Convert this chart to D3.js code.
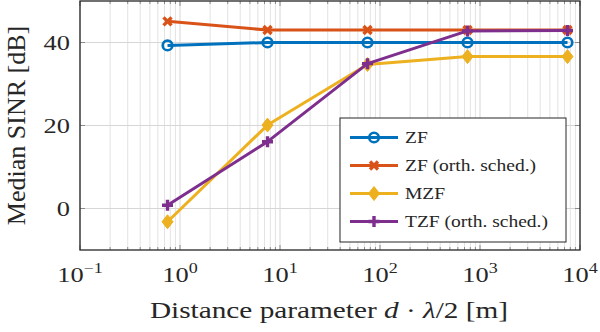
<!DOCTYPE html>
<html>
<head>
<meta charset="utf-8">
<script src="https://cdn.jsdelivr.net/npm/d3@7"></script>
<style>
  body { margin: 0; background: #fff; }
  svg text { font-family: 'Liberation Serif', serif; fill: #262626; }
</style>
</head>
<body>
<div id="chart"></div>
<script>
// distance parameter d * lambda / 2 [m]
var distances = [0.75, 7.5, 75, 750, 7500];
var zf = [39.3, 40, 40, 40, 40];
var zfOrth = [45.1, 43, 43, 43, 43];
var mzf = [-3.2, 20.1, 34.7, 36.6, 36.6];
var tzfOrth = [0.8, 16.1, 34.9, 42.8, 42.9];
var yTicks = [0, 20, 40];
var xExponents = [-1, 0, 1, 2, 3, 4];

var series = [
  { name: 'ZF', values: zf, color: '#0072BD', marker: 'circle' },
  { name: 'ZF (orth. sched.)', values: zfOrth, color: '#D95319', marker: 'cross' },
  { name: 'MZF', values: mzf, color: '#EDB120', marker: 'diamond' },
  { name: 'TZF (orth. sched.)', values: tzfOrth, color: '#7E2F8E', marker: 'plus' }
];

var margin = { top: 1, right: 20, bottom: 82, left: 80 },
  width = 600 - margin.left - margin.right,
  height = 332 - margin.top - margin.bottom;

var svg = d3
  .select('#chart')
  .append('svg')
  .attr('width', 600)
  .attr('height', 332)
  .append('g')
  .attr('transform', 'translate(' + margin.left + ',' + margin.top + ')');

var x = d3.scaleLog().domain([0.1, 10000]).range([0, width]);
var y = d3.scaleLinear().domain([-10, 50]).range([height, 0]);

// the source figure is a bit stretched sideways, so text is too
function stretchedText(parent, tx, ty, size, sx) {
  return parent
    .append('g')
    .attr('transform', 'translate(' + tx + ',' + ty + ') scale(' + sx + ',1)')
    .append('text')
    .style('font-size', size + 'px');
}

// minor decades
var minor = [];
xExponents.slice(0, -1).forEach(function(e) {
  for (var k = 2; k <= 9; k++) minor.push(k * Math.pow(10, e));
});
var major = xExponents.map(function(e) { return Math.pow(10, e); });

// grid
svg.selectAll('.minor-grid')
  .data(minor)
  .enter()
  .append('line')
  .attr('x1', function(d) { return x(d); })
  .attr('x2', function(d) { return x(d); })
  .attr('y1', 0)
  .attr('y2', height)
  .attr('stroke', '#e3e3e3')
  .attr('stroke-width', 1);

svg.selectAll('.major-grid')
  .data(major)
  .enter()
  .append('line')
  .attr('x1', function(d) { return x(d); })
  .attr('x2', function(d) { return x(d); })
  .attr('y1', 0)
  .attr('y2', height)
  .attr('stroke', '#d6d6d6')
  .attr('stroke-width', 1);

svg.selectAll('.y-grid')
  .data(yTicks)
  .enter()
  .append('line')
  .attr('x1', 0)
  .attr('x2', width)
  .attr('y1', function(d) { return y(d); })
  .attr('y2', function(d) { return y(d); })
  .attr('stroke', '#d6d6d6')
  .attr('stroke-width', 1);

// inner ticks on all sides
var tickG = svg.append('g').attr('stroke', '#8c8c8c').attr('stroke-width', 1);
minor.forEach(function(d) {
  tickG.append('line').attr('x1', x(d)).attr('x2', x(d)).attr('y1', height).attr('y2', height - 3);
  tickG.append('line').attr('x1', x(d)).attr('x2', x(d)).attr('y1', 0).attr('y2', 3);
});
major.forEach(function(d) {
  tickG.append('line').attr('x1', x(d)).attr('x2', x(d)).attr('y1', height).attr('y2', height - 5);
  tickG.append('line').attr('x1', x(d)).attr('x2', x(d)).attr('y1', 0).attr('y2', 5);
});
yTicks.forEach(function(d) {
  tickG.append('line').attr('x1', 0).attr('x2', 5).attr('y1', y(d)).attr('y2', y(d));
  tickG.append('line').attr('x1', width).attr('x2', width - 5).attr('y1', y(d)).attr('y2', y(d));
});

// frame
svg.append('rect')
  .attr('x', 0)
  .attr('y', 0)
  .attr('width', width)
  .attr('height', height)
  .attr('fill', 'none')
  .attr('stroke', '#262626')
  .attr('stroke-width', 1.3);

// tick labels
yTicks.forEach(function(d) {
  stretchedText(svg, -10, y(d), 22, 1.2)
    .attr('dy', '0.35em')
    .attr('text-anchor', 'end')
    .text(d);
});

xExponents.forEach(function(e) {
  var t = stretchedText(svg, x(Math.pow(10, e)), height + 32, 22, 1.2)
    .attr('text-anchor', 'middle');
  t.append('tspan').text('10');
  t.append('tspan')
    .attr('dy', -9)
    .style('font-size', '15px')
    .text(e < 0 ? '\u2212' + (-e) : e);
});

// axis titles
svg.append('text')
  .attr('transform', 'translate(-55,' + height / 2 + ') rotate(-90)')
  .attr('text-anchor', 'middle')
  .style('font-size', '26px')
  .text('Median SINR [dB]');

var xt = stretchedText(svg, width / 2 - 1, height + 68, 24, 1.22)
  .attr('text-anchor', 'middle');
xt.append('tspan').text('Distance parameter ');
xt.append('tspan').style('font-style', 'italic').text('d');
xt.append('tspan').text(' \u00b7 ');
xt.append('tspan').style('font-style', 'italic').text('\u03bb');
xt.append('tspan').text('/2 [m]');

// markers
function drawMarker(g, type, color, cx, cy) {
  if (type === 'circle') {
    g.append('circle')
      .attr('cx', cx).attr('cy', cy).attr('r', 4.8)
      .attr('fill', 'none').attr('stroke', color).attr('stroke-width', 2.6);
  } else if (type === 'cross') {
    g.append('path')
      .attr('d', 'M' + (cx - 4) + ',' + (cy - 4) + 'L' + (cx + 4) + ',' + (cy + 4) +
        'M' + (cx - 4) + ',' + (cy + 4) + 'L' + (cx + 4) + ',' + (cy - 4))
      .attr('stroke', color).attr('stroke-width', 3.4);
  } else if (type === 'diamond') {
    g.append('path')
      .attr('d', 'M' + cx + ',' + (cy - 7) + 'L' + (cx + 5.5) + ',' + cy +
        'L' + cx + ',' + (cy + 7) + 'L' + (cx - 5.5) + ',' + cy + 'Z')
      .attr('fill', color).attr('stroke', color).attr('stroke-width', 1);
  } else {
    g.append('path')
      .attr('d', 'M' + (cx - 5.5) + ',' + cy + 'L' + (cx + 5.5) + ',' + cy +
        'M' + cx + ',' + (cy - 5.5) + 'L' + cx + ',' + (cy + 5.5))
      .attr('stroke', color).attr('stroke-width', 3.4);
  }
}

var line = d3.line()
  .x(function(d) { return x(d[0]); })
  .y(function(d) { return y(d[1]); });

series.forEach(function(s) {
  var pts = distances.map(function(d, i) { return [d, s.values[i]]; });
  var g = svg.append('g');
  g.append('path')
    .datum(pts)
    .attr('d', line)
    .attr('fill', 'none')
    .attr('stroke', s.color)
    .attr('stroke-width', 3)
    .attr('stroke-linejoin', 'round');
  pts.forEach(function(p) {
    drawMarker(g, s.marker, s.color, x(p[0]), y(p[1]));
  });
});

// legend
var lg = svg.append('g').attr('transform', 'translate(' + (340 - margin.left) + ',' + (118 - margin.top) + ')');
lg.append('rect')
  .attr('width', 226)
  .attr('height', 124)
  .attr('fill', '#fff')
  .attr('stroke', '#262626')
  .attr('stroke-width', 1);
series.forEach(function(s, i) {
  var cy = 19.5 + i * 28;
  lg.append('line')
    .attr('x1', 10).attr('x2', 58)
    .attr('y1', cy).attr('y2', cy)
    .attr('stroke', s.color).attr('stroke-width', 3);
  drawMarker(lg, s.marker, s.color, 34, cy);
  stretchedText(lg, 65, cy, 16, 1.22)
    .attr('dy', '0.35em')
    .text(s.name);
});
</script>
</body>
</html>
